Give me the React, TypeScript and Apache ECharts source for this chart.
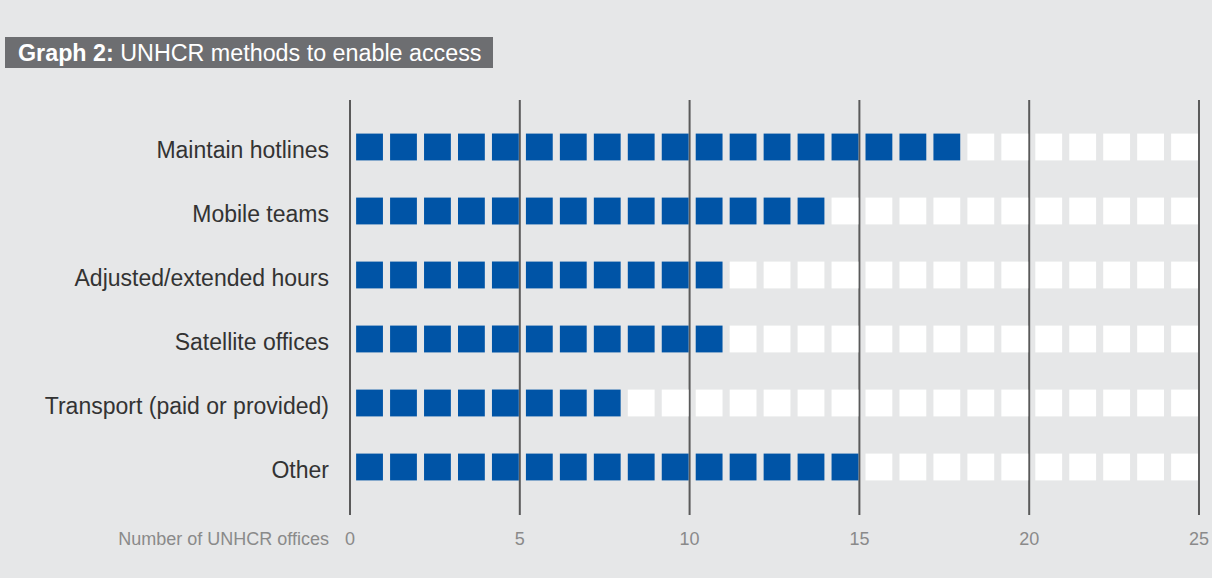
import React, { useEffect, useRef } from "react";
import * as echarts from "echarts";

const categories = [
  "Maintain hotlines",
  "Mobile teams",
  "Adjusted/extended hours",
  "Satellite offices",
  "Transport (paid or provided)",
  "Other",
];
const values = [18, 14, 11, 11, 8, 15];
const maxOffices = 25;
const tickValues = [0, 5, 10, 15, 20, 25];

const BLUE = "#0054a6";
const BG = "#e6e7e8";
const FONT = "'Liberation Sans', Arial, Helvetica, sans-serif";

export default function App() {
  const ref = useRef<HTMLDivElement>(null);
  useEffect(() => {
    document.body.style.margin = "0";
    const chart = echarts.init(ref.current!, null, { renderer: "svg" });
    const squareData: number[][] = [];
    categories.forEach((_, ci) => {
      for (let i = 0; i < maxOffices; i++) {
        squareData.push([i, ci, i < values[ci] ? 1 : 0]);
      }
    });
    chart.setOption({
      animation: false,
      backgroundColor: BG,
      textStyle: { fontFamily: FONT },
      grid: { left: 350, right: 13, top: 115, bottom: 79 },
      xAxis: {
        type: "value",
        min: 0,
        max: 25,
        interval: 5,
        axisLine: { show: false },
        axisTick: { show: false },
        splitLine: { show: false },
        axisLabel: { color: "#8a8a8a", fontSize: 18, margin: 31, fontFamily: FONT },
      },
      yAxis: {
        type: "category",
        data: categories,
        inverse: true,
        axisLine: { show: false },
        axisTick: { show: false },
        axisLabel: {
          margin: 21,
          formatter: (v: string) => `{a|${v}}`,
          rich: {
            a: {
              color: "#333333",
              fontSize: 23,
              fontFamily: FONT,
              padding: [6, 0, 0, 0],
            },
          },
        },
      },
      graphic: [
        {
          type: "rect",
          left: 5,
          top: 37,
          shape: { width: 488, height: 31 },
          style: { fill: "#6d6e71" },
        },
        {
          type: "text",
          style: {
            x: 18,
            y: 53,
            verticalAlign: "middle",
            text: "{b|Graph 2:} UNHCR methods to enable access",
            fill: "#ffffff",
            font: `23.3px ${FONT}`,
            rich: {
              b: { fontWeight: "bold", fontSize: 23.3, fill: "#ffffff", fontFamily: FONT },
            },
          },
        },
        {
          type: "text",
          style: {
            x: 329,
            y: 539,
            align: "right",
            verticalAlign: "middle",
            text: "Number of UNHCR offices",
            fill: "#8a8a8a",
            font: `18px ${FONT}`,
          },
        },
      ],
      series: [
        {
          type: "custom",
          clip: false,
          data: tickValues.map((v) => [v]),
          renderItem: (params: any, api: any) => {
            const x = api.coord([api.value(0), 0])[0];
            const cs = params.coordSys;
            return {
              type: "line",
              shape: { x1: x, y1: cs.y - 15, x2: x, y2: cs.y + cs.height + 16 },
              style: { stroke: "#5a5a5a", lineWidth: 2 },
            };
          },
        },
        {
          type: "custom",
          data: squareData,
          renderItem: (params: any, api: any) => {
            const i = api.value(0);
            const ci = api.value(1);
            const filled = api.value(2);
            const p0 = api.coord([i + 0.18, ci]);
            const p1 = api.coord([i + 0.97, ci]);
            const w = p1[0] - p0[0];
            return {
              type: "rect",
              shape: { x: p0[0], y: p0[1] - w / 2, width: w, height: w },
              style: { fill: filled ? BLUE : "#ffffff" },
            };
          },
        },
      ],
    });
    return () => chart.dispose();
  }, []);
  return <div ref={ref} style={{ width: 1212, height: 578 }} />;
}
